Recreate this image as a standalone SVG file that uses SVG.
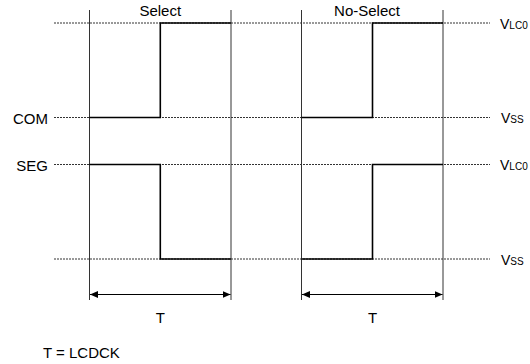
<svg xmlns="http://www.w3.org/2000/svg" width="530" height="364" viewBox="0 0 530 364">
<defs>
<style>
text{font-family:"Liberation Sans",Arial,sans-serif;font-size:15px;fill:#000}
.dash{stroke:#333;stroke-width:1;stroke-dasharray:2,1;fill:none}
.vl{stroke:#333;stroke-width:1;fill:none}
.sig{stroke:#000;stroke-width:1.6;fill:none}
.dim{stroke:#000;stroke-width:1;fill:none}
.v{font-size:14px}
.sub{font-size:10px}
</style>
<marker id="ah" viewBox="0 0 8 7" refX="8" refY="3.5" markerWidth="8" markerHeight="7" markerUnits="userSpaceOnUse" orient="auto-start-reverse">
<path d="M0,0 L8,3.5 L0,7 Z" fill="#000"/>
</marker>
</defs>
<g id="levels">
<line class="dash" x1="54" y1="23" x2="490" y2="23"/>
<line class="dash" x1="54" y1="117.5" x2="490" y2="117.5"/>
<line class="dash" x1="54" y1="164.5" x2="490" y2="164.5"/>
<line class="dash" x1="54" y1="259" x2="490" y2="259"/>
</g>
<g id="boundaries">
<line class="vl" x1="89.5" y1="10" x2="89.5" y2="300"/>
<line class="vl" x1="231" y1="10" x2="231" y2="300"/>
<line class="vl" x1="301.5" y1="10" x2="301.5" y2="300"/>
<line class="vl" x1="443" y1="10" x2="443" y2="300"/>
</g>
<g id="com-select"><polyline class="sig" points="89.5,117.5 160.3,117.5 160.3,23 231,23"/></g>
<g id="seg-select"><polyline class="sig" points="89.5,164.5 160.3,164.5 160.3,259 231,259"/></g>
<g id="com-noselect"><polyline class="sig" points="301.5,117.5 372.5,117.5 372.5,23 443,23"/></g>
<g id="seg-noselect"><polyline class="sig" points="301.5,259 372.5,259 372.5,164.5 443,164.5"/></g>
<g id="connectors">
<line class="dim" x1="90" y1="294.5" x2="230.5" y2="294.5" marker-start="url(#ah)" marker-end="url(#ah)"/>
<line class="dim" x1="302" y1="294.5" x2="442.5" y2="294.5" marker-start="url(#ah)" marker-end="url(#ah)"/>
</g>
<g id="labels">
<text x="160.3" y="16" text-anchor="middle">Select</text>
<text x="367" y="16" text-anchor="middle">No-Select</text>
<text x="48" y="123.5" text-anchor="end">COM</text>
<text x="48" y="170.5" text-anchor="end">SEG</text>
<text class="v" x="500" y="28.5">V<tspan class="sub">LC0</tspan></text>
<text class="v" x="501" y="123">V<tspan class="sub">SS</tspan></text>
<text class="v" x="500" y="170">V<tspan class="sub">LC0</tspan></text>
<text class="v" x="501" y="264.5">V<tspan class="sub">SS</tspan></text>
<text x="160.3" y="323" text-anchor="middle">T</text>
<text x="372.5" y="323" text-anchor="middle">T</text>
<text x="43" y="358">T = LCDCK</text>
</g>
</svg>
